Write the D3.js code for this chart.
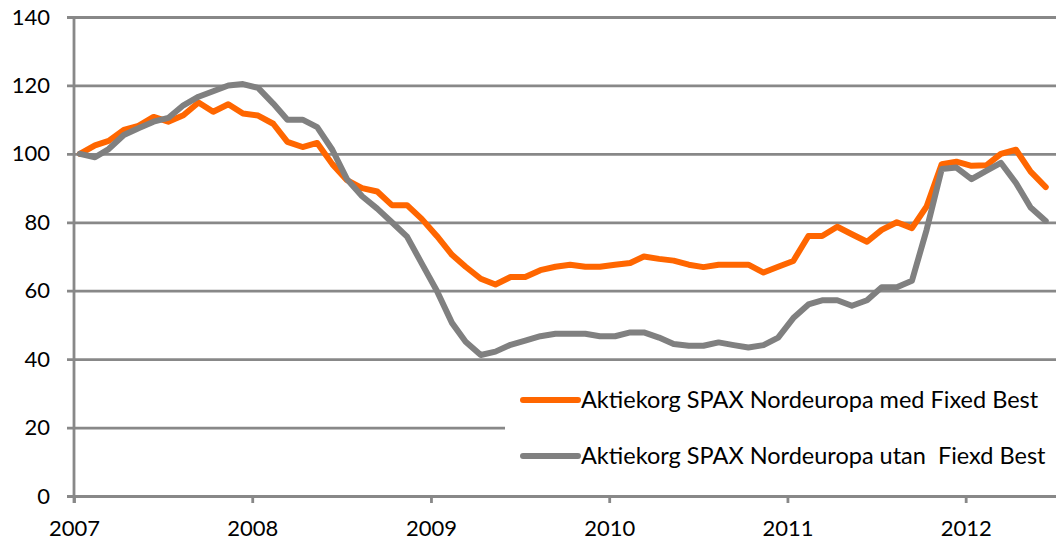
<!DOCTYPE html>
<html>
<head>
<meta charset="utf-8">
<script src="https://cdn.jsdelivr.net/npm/d3@7"></script>
<style>
  body { margin: 0; background: #fff; }
  svg { display: block; }
</style>
</head>
<body>
<div id="chart_root"></div>
<script>
const widthValue = 1056;
const heightValue = 545;
const pad = { left: 74, top: 17, bottom: 49 };

// monthly observations, Jan 2007 - Jun 2012
const months = [
  "2007-01","2007-02","2007-03","2007-04","2007-05","2007-06","2007-07","2007-08","2007-09","2007-10","2007-11","2007-12",
  "2008-01","2008-02","2008-03","2008-04","2008-05","2008-06","2008-07","2008-08","2008-09","2008-10","2008-11","2008-12",
  "2009-01","2009-02","2009-03","2009-04","2009-05","2009-06","2009-07","2009-08","2009-09","2009-10","2009-11","2009-12",
  "2010-01","2010-02","2010-03","2010-04","2010-05","2010-06","2010-07","2010-08","2010-09","2010-10","2010-11","2010-12",
  "2011-01","2011-02","2011-03","2011-04","2011-05","2011-06","2011-07","2011-08","2011-09","2011-10","2011-11","2011-12",
  "2012-01","2012-02","2012-03","2012-04","2012-05","2012-06"
];

const medFixedBest = [
  100, 102.5, 103.8, 107, 108.2, 110.8, 109.4, 111.3, 115, 112.3, 114.5, 111.8,
  111.2, 108.8, 103.5, 102, 103.2, 97, 92.3, 90, 89, 85, 85, 81,
  76, 70.5, 67, 63.5, 61.8, 64, 64, 66, 67, 67.6, 67, 67,
  67.6, 68.1, 70, 69.3, 68.8, 67.6, 66.9, 67.6, 67.6, 67.6, 65.3, 67,
  68.7, 76, 76, 78.7, 76.5, 74.3, 77.8, 80, 78.3, 84.6, 97, 97.7,
  96.5, 96.7, 100, 101.2, 94.8, 90.3
];

const utanFixedBest = [
  100, 99, 101.4, 105.5, 107.5, 109.4, 110.5, 114.2, 116.7, 118.3, 120, 120.4,
  119.3, 114.7, 110, 110, 107.8, 101.2, 92.6, 87.6, 84, 80, 75.8, 68,
  60, 50.6, 45.1, 41.2, 42.2, 44.2, 45.4, 46.7, 47.4, 47.4, 47.4, 46.7,
  46.7, 47.8, 47.8, 46.3, 44.4, 43.9, 43.9, 44.9, 44.1, 43.4, 44.1, 46.3,
  52, 56, 57.2, 57.2, 55.6, 57.2, 61, 61, 62.9, 77.8, 95.6, 96,
  92.6, 95.1, 97.4, 91.5, 84.3, 80.4
];

const yTicks = [0, 20, 40, 60, 80, 100, 120, 140];
const yearTicks = ["2007", "2008", "2009", "2010", "2011", "2012"];
const seriesNames = [
  "Aktiekorg SPAX Nordeuropa med Fixed Best",
  "Aktiekorg SPAX Nordeuropa utan  Fiexd Best"
];
const seriesColors = ["#ff6600", "#808080"];

const parseMonth = d3.timeParse("%Y-%m");
const parseYear = d3.timeParse("%Y");
const fontFamily = "Lato, 'Open Sans', sans-serif";
const gridColor = "#888888";

const svg = d3
  .select("#chart_root")
  .append("svg")
  .attr("width", widthValue)
  .attr("height", heightValue)
  .style("font-family", fontFamily);

// Scales - one year is ~178.4px, the picture is cut at the right edge
var xScale = d3
  .scaleTime()
  .domain([parseYear("2007"), parseYear("2013")])
  .range([pad.left, pad.left + 6 * 178.4]);
var yScale = d3
  .scaleLinear()
  .domain([0, 140])
  .range([heightValue - pad.bottom, pad.top]);

// gridlines + y labels
var yAxis = svg
  .append("g")
  .attr("transform", "translate(" + pad.left + ",0)")
  .call(
    d3.axisLeft(yScale)
      .tickValues(yTicks)
      .tickSize(-(widthValue - pad.left))
      .tickSizeOuter(0)
      .tickPadding(24)
  );
yAxis.select(".domain").remove();
yAxis.selectAll(".tick line")
  .attr("x1", -7)
  .attr("stroke", gridColor)
  .attr("stroke-width", 2.8);
yAxis.selectAll(".tick text")
  .attr("fill", "#000")
  .style("font-size", "22px")
  .style("font-family", fontFamily);

// vertical axis line
svg.append("line")
  .attr("x1", pad.left).attr("x2", pad.left)
  .attr("y1", yScale(140)).attr("y2", yScale(0) + 7)
  .attr("stroke", gridColor)
  .attr("stroke-width", 2.8);

// x axis
var xAxis = svg
  .append("g")
  .attr("transform", "translate(0," + yScale(0) + ")")
  .call(
    d3.axisBottom(xScale)
      .tickValues(yearTicks.map(parseYear))
      .tickFormat(d3.timeFormat("%Y"))
      .tickSize(7)
      .tickSizeOuter(0)
      .tickPadding(17)
  );
xAxis.select(".domain")
  .attr("stroke", gridColor)
  .attr("stroke-width", 2.8);
xAxis.selectAll(".tick line")
  .attr("stroke", gridColor)
  .attr("stroke-width", 2.8);
xAxis.selectAll(".tick text")
  .attr("fill", "#000")
  .style("font-size", "22px")
  .style("font-family", fontFamily);

// Lines (mid-month points)
const pointDate = (m) => d3.timeDay.offset(parseMonth(m), 12);
var line = d3
  .line()
  .x((d) => xScale(pointDate(d.month)))
  .y((d) => yScale(d.value));

[medFixedBest, utanFixedBest].forEach((values, k) => {
  svg.append("path")
    .datum(values.map((v, i) => ({ month: months[i], value: v })))
    .attr("fill", "none")
    .attr("stroke", seriesColors[k])
    .attr("stroke-width", 6)
    .attr("stroke-linejoin", "round")
    .attr("stroke-linecap", "round")
    .attr("d", line);
});

// legend (white box hides the grid behind it)
var legend = svg.append("g").attr("transform", "translate(505,370)");
legend.append("rect")
  .attr("width", widthValue - 505)
  .attr("height", 108)
  .attr("fill", "#fff");
seriesNames.forEach((name, k) => {
  var row = legend.append("g").attr("transform", "translate(0," + (30 + k * 56) + ")");
  row.append("line")
    .attr("x1", 18).attr("x2", 73)
    .attr("stroke", seriesColors[k])
    .attr("stroke-width", 6)
    .attr("stroke-linecap", "round");
  row.append("text")
    .attr("x", 76)
    .attr("y", 8)
    .attr("fill", "#000")
    .style("font-size", "23.5px")
    .style("white-space", "pre")
    .attr("xml:space", "preserve")
    .text(name);
});
</script>
</body>
</html>
